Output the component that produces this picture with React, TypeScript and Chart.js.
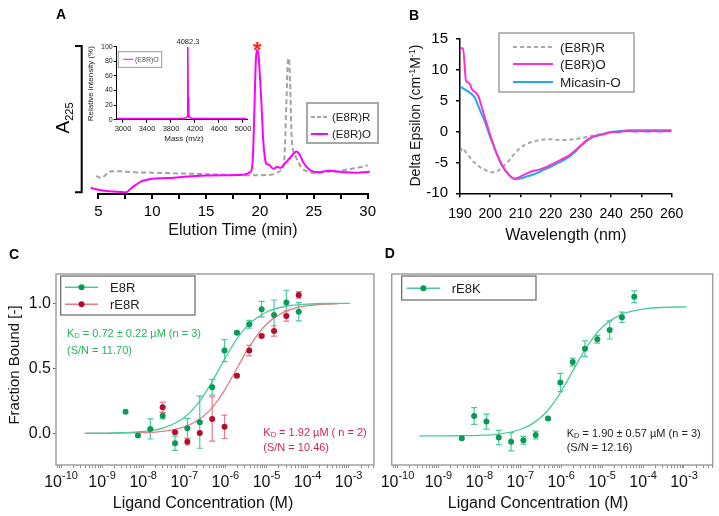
import React, { useEffect, useRef } from 'react';
import { Chart, registerables } from 'chart.js';

Chart.register(...registerables);

const FONT = '"Liberation Sans", Arial, Helvetica, sans-serif';

// ---------- Panel A : HPLC chromatogram ----------
const hplcTimeO = [4.3, 5.0, 6.0, 7.0, 7.6, 8.0, 8.5, 9.0, 9.5, 10.0, 11.0, 12.0, 13.0, 15.0, 17.0, 18.0, 18.7, 19.0, 19.2, 19.35, 19.5, 19.62, 19.75, 19.88, 20.0, 20.15, 20.3, 20.45, 20.6, 20.9, 21.1, 21.3, 21.6, 21.9, 22.3, 22.8, 23.2, 23.4, 23.7, 24.0, 24.5, 25.0, 25.5, 26.0, 26.5, 27.0, 28.0, 29.0, 29.5, 30.2];
const hplcAbsO = [4.2, 2.9, 1.9, 1.4, 1.2, 3.6, 6.3, 8.5, 9.6, 10.3, 10.7, 11.0, 11.7, 12.5, 12.7, 12.8, 13.4, 14.4, 15.7, 25, 60, 90, 97.5, 93, 80, 60, 37, 25, 20.5, 19.5, 17.8, 17.0, 18.4, 17.5, 20.4, 24.5, 27.8, 28.7, 26.5, 21.8, 17.0, 15.0, 14.7, 15.4, 15.7, 15.4, 14.7, 14.4, 14.7, 15.0];
const hplcTimeR = [4.3, 4.8, 5.2, 5.6, 6.0, 7.0, 8.0, 10.0, 12.0, 15.0, 18.0, 20.0, 21.0, 21.5, 22.0, 22.25, 22.45, 22.6, 22.7, 22.8, 22.95, 23.1, 23.3, 23.6, 23.9, 24.3, 25.0, 26.0, 27.0, 28.0, 29.0, 30.0, 30.3];
const hplcAbsR = [14.2, 12.3, 10.8, 12.3, 15.2, 15.4, 14.8, 14.4, 14.0, 13.4, 12.8, 12.7, 13.0, 14.0, 16.4, 22, 60, 90, 91.7, 75, 38, 29, 25.5, 21, 17.5, 15.5, 14.2, 15.0, 15.0, 16.4, 17.7, 19.4, 20.4];
const hplcLabels = ['(E8R)R', '(E8R)O'];

// ---------- Panel A inset : mass spectrum ----------
const msMass = [2900, 3400, 3800, 4000, 4050, 4070, 4078, 4082.3, 4086, 4090, 4095, 4100, 4108, 4120, 4150, 4300, 4700, 5060];
const msIntensity = [1.5, 1.5, 1.5, 1.7, 2.5, 4.0, 20, 100, 30, 14, 15, 8, 4, 2.5, 1.8, 1.5, 1.5, 1.5];
const msMassTicks = [3000, 3400, 3800, 4200, 4600, 5000];
const msIntTicks = [0, 20, 40, 60, 80, 100];

// ---------- Panel B : CD spectra ----------
const cdWavelength = [190, 191, 192, 193, 194, 195, 196, 197, 198, 199, 200, 202, 204, 206, 208, 210, 212, 214, 216, 218, 220, 222, 224, 226, 228, 230, 232, 234, 236, 238, 240, 242, 244, 246, 248, 250, 252, 254, 256, 258, 260];
const cdE8RO = [13.5, 13.5, 8.2, 7.9, 6.8, 6.4, 5.8, 4.3, 2.6, 1.0, -0.6, -3.4, -5.5, -6.9, -7.6, -7.3, -6.8, -6.4, -6.2, -5.85, -5.4, -4.9, -4.4, -3.9, -3.1, -2.2, -1.35, -0.85, -0.6, -0.35, -0.05, -0.1, 0.05, 0.1, 0.0, 0.1, 0.0, 0.1, 0.0, 0.1, 0.05];
const cdMicasinO = [7.3, 7.0, 6.7, 6.4, 6.0, 5.4, 4.2, 3.0, 1.9, 0.5, -0.9, -3.4, -5.6, -6.9, -7.7, -7.6, -7.3, -7.0, -6.6, -6.1, -5.7, -5.2, -4.7, -4.1, -3.3, -2.3, -1.5, -0.85, -0.55, -0.35, -0.1, 0.05, 0.15, 0.2, 0.2, 0.2, 0.2, 0.2, 0.2, 0.2, 0.2];
const cdE8RR = [-3.3, -2.7, -3.4, -4.0, -4.7, -5.1, -5.5, -5.9, -6.1, -6.4, -6.6, -6.5, -5.8, -4.8, -3.6, -2.6, -2.0, -1.65, -1.4, -1.27, -1.26, -1.33, -1.37, -1.33, -1.22, -1.05, -0.88, -0.65, -0.45, -0.25, -0.05, 0.05, 0.1, 0.1, 0.1, 0.1, 0.1, 0.1, 0.1, 0.1, 0.1];
const cdLabels = ['(E8R)R', '(E8R)O', 'Micasin-O'];

// ---------- Panels C / D : MST binding ----------
const ligandConc = [6.1e-5, 3.05e-5, 1.53e-5, 7.63e-6, 3.81e-6, 1.91e-6, 9.53e-7, 4.77e-7, 2.38e-7, 1.19e-7, 5.96e-8, 2.98e-8, 1.49e-8, 7.45e-9, 3.72e-9];
const e8rBound = [0.935, 1.005, 0.91, 0.954, 0.838, 0.774, 0.636, 0.354, 0.085, 0.038, -0.077, 0.135, 0.033, -0.018, 0.166];
const e8rErr = [0.07, 0.095, 0.115, 0.06, 0.03, 0.01, 0.085, 0.06, 0.2, 0.077, 0.055, 0.025, 0.077, 0, 0];
const re8rBound = [1.064, 0.902, 0.787, 0.748, 0.636, 0.443, 0.05, 0.11, 0.003, -0.065, 0.008, 0.2];
const re8rErr = [0.025, 0.04, 0.04, 0.01, 0.04, 0.01, 0.09, 0.17, 0, 0.025, 0, 0.04];
const fitConcE8R = [3.8e-10, 1e-9, 3e-9, 1e-8, 3e-8, 1e-7, 2e-7, 4e-7, 7e-7, 1e-6, 2e-6, 4e-6, 1e-5, 3e-5, 1e-4, 3e-4, 1.07e-3];
const e8rFit = [0.0, 0.001, 0.004, 0.014, 0.04, 0.122, 0.217, 0.357, 0.493, 0.581, 0.735, 0.847, 0.933, 0.977, 0.993, 0.998, 0.999];
const fitConcRE8R = [3.8e-10, 1e-9, 3e-9, 1e-8, 3e-8, 1e-7, 2e-7, 4e-7, 7e-7, 1e-6, 2e-6, 4e-6, 1e-5, 3e-5, 1e-4, 3e-4, 5.5e-4];
const re8rFit = [0.0, 0.0, 0.002, 0.005, 0.015, 0.05, 0.094, 0.17, 0.267, 0.342, 0.51, 0.676, 0.839, 0.94, 0.981, 0.994, 0.997];
const re8kBound = [1.05, 0.892, 0.795, 0.723, 0.651, 0.548, 0.39, 0.113, -0.013, -0.054, -0.065, -0.033, 0.09, 0.133, -0.038];
const re8kErr = [0.045, 0.04, 0.07, 0.03, 0.06, 0.03, 0.07, 0.01, 0.03, 0.03, 0.07, 0.055, 0.058, 0.065, 0];
const fitConcRE8K = [3.5e-10, 1e-9, 3e-9, 1e-8, 3e-8, 1e-7, 2e-7, 4e-7, 7e-7, 1e-6, 2e-6, 4e-6, 1e-5, 3e-5, 1e-4, 3e-4, 1.17e-3];
const re8kFit = [-0.021, -0.02, -0.019, -0.016, -0.006, 0.029, 0.074, 0.152, 0.247, 0.322, 0.489, 0.654, 0.815, 0.915, 0.955, 0.968, 0.972];
const fractionTicks = [0, 0.5, 1.0];
const decadeExps = [-10, -9, -8, -7, -6, -5, -4, -3];
const mstLabelsC = ['E8R', 'rE8R'];
const mstLabelsD = ['rE8K'];

// ---------- colours ----------
const MAGENTA = '#ff00ff';
const GRAY_A = '#a3a3a3';
const B_MAGENTA = '#ff2fd0';
const B_CYAN = '#1aaee8';
const GRAY_B = '#a8a8a8';
const GREEN_DOT = '#0a9a55';
const GREEN_LINE = '#48cc9e';
const RED_DOT = '#b0102e';
const RED_LINE = '#ea7a86';
const KD_GREEN = '#22b85a';
const KD_RED = '#d42552';

const pts = (xs: number[], ys: number[]) => xs.map((x, i) => ({ x, y: ys[i] }));

type Seg = { t: string; s: number; dy?: number; w?: string };
function rich(ctx: CanvasRenderingContext2D, segs: Seg[], x: number, y: number, color: string, align = 'center', rotate = 0) {
  ctx.save();
  ctx.fillStyle = color;
  ctx.textBaseline = 'alphabetic';
  ctx.textAlign = 'left';
  const ws = segs.map((g) => {
    ctx.font = `${g.w || 'normal'} ${g.s}px ${FONT}`;
    return ctx.measureText(g.t).width;
  });
  const total = ws.reduce((a, b) => a + b, 0);
  ctx.translate(x, y);
  if (rotate) ctx.rotate(rotate);
  let cx = align === 'center' ? -total / 2 : align === 'right' ? -total : 0;
  segs.forEach((g, i) => {
    ctx.font = `${g.w || 'normal'} ${g.s}px ${FONT}`;
    ctx.fillText(g.t, cx, g.dy || 0);
    cx += ws[i];
  });
  ctx.restore();
}
function text(ctx: CanvasRenderingContext2D, t: string, x: number, yc: number, size: number, color = '#000', align = 'center', weight = 'normal', rotate = 0) {
  const off = 0.36 * size;
  if (rotate) rich(ctx, [{ t, s: size, w: weight }], x + off, yc, color, align, rotate);
  else rich(ctx, [{ t, s: size, w: weight }], x, yc + off, color, align);
}
function box(ctx: CanvasRenderingContext2D, x0: number, y0: number, x1: number, y1: number, color: string, lw: number) {
  ctx.save();
  ctx.strokeStyle = color;
  ctx.lineWidth = lw;
  ctx.strokeRect(x0, y0, x1 - x0, y1 - y0);
  ctx.restore();
}
function legendLine(ctx: CanvasRenderingContext2D, x0: number, x1: number, y: number, color: string, lw: number, dash: number[] = [], marker = '') {
  ctx.save();
  ctx.strokeStyle = color;
  ctx.lineWidth = lw;
  ctx.setLineDash(dash);
  ctx.beginPath();
  ctx.moveTo(x0, y);
  ctx.lineTo(x1, y);
  ctx.stroke();
  if (marker) {
    ctx.setLineDash([]);
    ctx.fillStyle = marker;
    ctx.beginPath();
    ctx.arc((x0 + x1) / 2, y, 3, 0, Math.PI * 2);
    ctx.fill();
  }
  ctx.restore();
}
function logTicks(minExp: number, maxExp: number) {
  const out: number[] = [];
  for (let e = Math.floor(minExp); e <= Math.ceil(maxExp); e++) {
    for (let m = 1; m <= 9; m++) {
      const v = m * Math.pow(10, e);
      const lv = Math.log10(v);
      if (lv >= minExp - 1e-9 && lv <= maxExp + 1e-9) out.push(v);
    }
  }
  return out;
}
function errorBars(specs: { ds: number; err: number[]; color: string }[]) {
  return {
    id: 'errbars',
    beforeDatasetsDraw(chart: any) {
      const ctx = chart.ctx;
      const ys = chart.scales.y;
      specs.forEach((sp) => {
        const meta = chart.getDatasetMeta(sp.ds);
        const data = chart.data.datasets[sp.ds].data;
        meta.data.forEach((el: any, i: number) => {
          const e = sp.err[i];
          if (!e) return;
          const px = el.x;
          const top = ys.getPixelForValue(data[i].y + e);
          const bot = ys.getPixelForValue(data[i].y - e);
          ctx.save();
          ctx.strokeStyle = sp.color;
          ctx.lineWidth = 1.2;
          ctx.beginPath();
          ctx.moveTo(px, top);
          ctx.lineTo(px, bot);
          ctx.moveTo(px - 3, top);
          ctx.lineTo(px + 3, top);
          ctx.moveTo(px - 3, bot);
          ctx.lineTo(px + 3, bot);
          ctx.stroke();
          ctx.restore();
        });
      });
    },
  };
}
function powerLabels(chart: any, baseY: number) {
  const xs = chart.scales.x;
  decadeExps.forEach((e) => {
    const px = xs.getPixelForValue(Math.pow(10, e));
    rich(chart.ctx, [{ t: '10', s: 16 }, { t: String(e), s: 11, dy: -7.4 }], px, baseY, '#111', 'center');
  });
}

const base = (padding: any) => ({
  responsive: false,
  animation: false,
  devicePixelRatio: 1,
  events: [],
  layout: { padding },
  plugins: { legend: { display: false }, tooltip: { enabled: false } },
});

// ---------- chart builders ----------
function buildA() {
  const peakIdx = hplcAbsO.indexOf(Math.max(...hplcAbsO));
  return {
    type: 'line',
    data: {
      datasets: [
        { label: hplcLabels[1], data: pts(hplcTimeO, hplcAbsO), borderColor: MAGENTA, borderWidth: 2, pointRadius: 0, cubicInterpolationMode: 'monotone', clip: false, fill: false },
        { label: hplcLabels[0], data: pts(hplcTimeR, hplcAbsR), borderColor: GRAY_A, borderWidth: 2, borderDash: [5, 3], pointRadius: 0, cubicInterpolationMode: 'monotone', clip: false, fill: false },
      ],
    },
    options: {
      ...base({ left: 98.3, right: 6.7, top: 46, bottom: 0 }),
      scales: {
        x: {
          type: 'linear', min: 5, max: 30,
          afterFit: (s: any) => { s.height = 56; },
          ticks: { stepSize: 2.5, includeBounds: false, autoSkip: false, maxRotation: 0, padding: 4, color: '#000', font: { family: FONT, size: 15 }, callback: (v: any) => (Number(v) % 5 === 0 ? String(v) : '') },
          grid: { drawOnChartArea: false, drawTicks: true, tickLength: 5, color: '#000', lineWidth: 2 },
          border: { color: '#000', width: 2 },
        },
        y: { display: false, min: 0, max: 100 },
      },
    },
    plugins: [{
      id: 'annA',
      afterDraw(chart: any) {
        const ctx = chart.ctx;
        const { x, y } = chart.scales;
        ctx.save();
        ctx.strokeStyle = '#000';
        ctx.lineWidth = 2;
        ctx.beginPath();
        ctx.moveTo(75, 46);
        ctx.lineTo(81.7, 46);
        ctx.lineTo(81.7, 192.3);
        ctx.lineTo(75, 192.3);
        ctx.stroke();
        ctx.restore();
        rich(ctx, [{ t: 'A', s: 19 }, { t: '225', s: 11, dy: 4 }], 62 + 0.36 * 19, 118, '#000', 'center', -Math.PI / 2);
        const sx = x.getPixelForValue(hplcTimeO[peakIdx]);
        const sy = y.getPixelForValue(hplcAbsO[peakIdx]);
        rich(ctx, [{ t: '*', s: 22, w: 'bold' }], sx, sy + 7.5, '#ff2020', 'center');
        box(ctx, 307, 103, 378, 143, '#a8a8a8', 2);
        legendLine(ctx, 311, 328, 117, GRAY_A, 2, [4, 2]);
        text(ctx, hplcLabels[0], 332, 117, 11.5, '#222', 'left');
        legendLine(ctx, 311, 328, 134, MAGENTA, 2);
        text(ctx, hplcLabels[1], 332, 134, 11.5, '#222', 'left');
        text(ctx, 'Elution Time (min)', (chart.chartArea.left + chart.chartArea.right) / 2, 229, 16, '#111');
        text(ctx, 'A', 61, 14, 14, '#000', 'center', 'bold');
      },
    }],
  };
}

function buildInset() {
  const peakIdx = msIntensity.indexOf(Math.max(...msIntensity));
  const axisGrid = { drawOnChartArea: false, drawTicks: true, tickLength: 3, color: '#000', lineWidth: 1 };
  return {
    type: 'line',
    data: { datasets: [{ label: '(E8R)O', data: pts(msMass, msIntensity), borderColor: MAGENTA, borderWidth: 1.6, pointRadius: 0, fill: false, tension: 0 }] },
    options: {
      ...base({ left: 0, right: 13, top: 16.7, bottom: 0 }),
      scales: {
        x: {
          type: 'linear', min: 2895, max: 5067,
          afterBuildTicks: (s: any) => { s.ticks = msMassTicks.map((v) => ({ value: v })); },
          afterFit: (s: any) => { s.height = 25.3; },
          ticks: { autoSkip: false, maxRotation: 0, padding: 1.5, color: '#222', font: { family: FONT, size: 7.5 }, callback: (v: any) => String(v) },
          grid: axisGrid,
          border: { color: '#000', width: 1 },
        },
        y: {
          min: 0, max: 100,
          afterBuildTicks: (s: any) => { s.ticks = msIntTicks.map((v) => ({ value: v })); },
          afterFit: (s: any) => { s.width = 36.7; },
          ticks: { padding: 1, color: '#222', font: { family: FONT, size: 7 }, callback: (v: any) => String(v) },
          grid: axisGrid,
          border: { color: '#000', width: 1 },
        },
      },
    },
    plugins: [{
      id: 'annInset',
      afterDraw(chart: any) {
        const ctx = chart.ctx;
        text(ctx, 'Relative intensity (%)', 10.5, 53.7, 8, '#222', 'center', 'normal', -Math.PI / 2);
        text(ctx, 'Mass (m/z)', 104, 108.3, 8, '#222');
        text(ctx, msMass[peakIdx].toFixed(1), chart.scales.x.getPixelForValue(msMass[peakIdx]), 11.2, 7.5, '#222');
        box(ctx, 38.3, 21.7, 81.7, 37.3, '#9a9a9a', 1);
        legendLine(ctx, 43.3, 53.3, 29.3, MAGENTA, 1);
        text(ctx, '(E8R)O', 55, 29.3, 7, '#555', 'left');
      },
    }],
  };
}

function buildB() {
  const ds = (label: string, ys: number[], color: string, dash: number[]) => ({ label, data: pts(cdWavelength, ys), borderColor: color, borderWidth: 2, borderDash: dash, pointRadius: 0, fill: false, cubicInterpolationMode: 'monotone' });
  const g = { drawOnChartArea: false, drawTicks: true, tickLength: 4, color: '#000', lineWidth: 1.5 };
  return {
    type: 'line',
    data: { datasets: [ds(cdLabels[1], cdE8RO, B_MAGENTA, []), ds(cdLabels[2], cdMicasinO, B_CYAN, []), ds(cdLabels[0], cdE8RR, GRAY_B, [4, 3])] },
    options: {
      ...base({ left: 0, right: 47.3, top: 39, bottom: 0 }),
      scales: {
        x: {
          type: 'linear', min: 190, max: 260,
          afterFit: (s: any) => { s.height = 56.7; },
          ticks: { stepSize: 10, autoSkip: false, maxRotation: 0, padding: 8, color: '#000', font: { family: FONT, size: 14 } },
          grid: g, border: { color: '#000', width: 1.5 },
        },
        y: {
          min: -10, max: 15,
          afterFit: (s: any) => { s.width = 80; },
          ticks: { stepSize: 5, padding: 8, color: '#000', font: { family: FONT, size: 15 } },
          grid: g, border: { color: '#000', width: 1.5 },
        },
      },
    },
    plugins: [{
      id: 'annB',
      afterDraw(chart: any) {
        const ctx = chart.ctx;
        box(ctx, 119, 33, 254, 92, '#a0a0a0', 1.5);
        legendLine(ctx, 133, 173, 47, GRAY_B, 2, [4, 3]);
        text(ctx, cdLabels[0], 180, 47, 13.5, '#222', 'left');
        legendLine(ctx, 133, 173, 64, B_MAGENTA, 2);
        text(ctx, cdLabels[1], 180, 64, 13.5, '#222', 'left');
        legendLine(ctx, 133, 173, 82, B_CYAN, 2);
        text(ctx, cdLabels[2], 180, 82, 13.5, '#222', 'left');
        rich(ctx, [
          { t: 'Delta Epsilon (cm', s: 14 },
          { t: '-1', s: 9, dy: -5 },
          { t: 'M', s: 14 },
          { t: '-1', s: 9, dy: -5 },
          { t: ')', s: 14 },
        ], 35 + 0.36 * 14, 115.5, '#111', 'center', -Math.PI / 2);
        text(ctx, 'Wavelength (nm)', (chart.chartArea.left + chart.chartArea.right) / 2, 234, 16, '#111');
        text(ctx, 'B', 34, 14.5, 14, '#000', 'center', 'bold');
      },
    }],
  };
}

const C_MIN = -10.122;
const C_MAX = -2.383;
const D_MIN = -10.142;
const D_MAX = -2.298;

function logX(minE: number, maxE: number) {
  return {
    type: 'logarithmic', min: Math.pow(10, minE), max: Math.pow(10, maxE),
    afterBuildTicks: (s: any) => { s.ticks = logTicks(minE, maxE).map((v) => ({ value: v })); },
    afterFit: (s: any) => { s.height = 51; },
    ticks: { display: false, autoSkip: false },
    grid: { drawOnChartArea: false, drawTicks: true, tickLength: 3, color: '#8a8a8a', lineWidth: 1 },
    border: { display: false },
  };
}
const dots = (label: string, xs: number[], ys: number[], color: string) => ({ label, data: pts(xs, ys), showLine: false, pointRadius: 3, pointBackgroundColor: color, pointBorderColor: color, pointBorderWidth: 0, borderColor: color });
const fitLine = (xs: number[], ys: number[], color: string) => ({ data: pts(xs, ys), borderColor: color, borderWidth: 1.3, pointRadius: 0, fill: false, cubicInterpolationMode: 'monotone' });

function buildC() {
  return {
    type: 'line',
    data: {
      datasets: [
        dots(mstLabelsC[0], ligandConc, e8rBound, GREEN_DOT),
        dots(mstLabelsC[1], ligandConc.slice(0, re8rBound.length), re8rBound, RED_DOT),
        fitLine(fitConcE8R, e8rFit, GREEN_LINE),
        fitLine(fitConcRE8R, re8rFit, RED_LINE),
      ],
    },
    options: {
      ...base({ left: 0, right: 6, top: 34, bottom: 0 }),
      scales: {
        x: logX(C_MIN, C_MAX),
        y: {
          min: -0.244, max: 1.225,
          afterBuildTicks: (s: any) => { s.ticks = fractionTicks.map((v) => ({ value: v })); },
          afterFit: (s: any) => { s.width = 56; },
          ticks: { padding: 2, color: '#111', font: { family: FONT, size: 16 }, callback: (v: any) => Number(v).toFixed(1) },
          grid: { drawOnChartArea: false, drawTicks: true, tickLength: 3, color: '#666' },
          border: { display: false },
        },
      },
    },
    plugins: [
      errorBars([{ ds: 0, err: e8rErr, color: GREEN_LINE }, { ds: 1, err: re8rErr, color: RED_LINE }]),
      {
        id: 'annC',
        afterDraw(chart: any) {
          const ctx = chart.ctx;
          const a = chart.chartArea;
          box(ctx, a.left, a.top, a.right, a.bottom, '#a0a0a0', 1.5);
          powerLabels(chart, 246.7);
          text(ctx, 'Ligand Concentration (M)', 203, 262, 16, '#111');
          text(ctx, 'Fraction Bound [-]', 14, 125, 15, '#111', 'center', 'normal', -Math.PI / 2);
          box(ctx, 60.7, 36, 195, 75, '#666', 1.2);
          legendLine(ctx, 65, 98, 47.3, GREEN_LINE, 1.5, [], GREEN_DOT);
          text(ctx, mstLabelsC[0], 110, 47.3, 13, '#222', 'left');
          legendLine(ctx, 65, 98, 64.3, RED_LINE, 1.5, [], RED_DOT);
          text(ctx, mstLabelsC[1], 110, 64.3, 13, '#222', 'left');
          rich(ctx, [{ t: 'K', s: 11 }, { t: 'D', s: 7.5, dy: 0.5 }, { t: ' = 0.72 ± 0.22 µM (n = 3)', s: 11 }], 67, 93.3 + 4, KD_GREEN, 'left');
          text(ctx, '(S/N = 11.70)', 67, 110, 11, KD_GREEN, 'left');
          rich(ctx, [{ t: 'K', s: 11 }, { t: 'D', s: 7.5, dy: 0.5 }, { t: ' = 1.92 µM ( n = 2)', s: 11 }], 263.3, 192.3 + 4, KD_RED, 'left');
          text(ctx, '(S/N = 10.46)', 263.3, 206.7, 11, KD_RED, 'left');
          text(ctx, 'C', 14, 14, 14, '#000', 'center', 'bold');
        },
      },
    ],
  };
}

function buildD() {
  return {
    type: 'line',
    data: {
      datasets: [
        dots(mstLabelsD[0], ligandConc, re8kBound, GREEN_DOT),
        fitLine(fitConcRE8K, re8kFit, GREEN_LINE),
      ],
    },
    options: {
      ...base({ left: 11.7, right: 6.3, top: 34, bottom: 0 }),
      scales: {
        x: logX(D_MIN, D_MAX),
        y: { display: false, min: -0.244, max: 1.225 },
      },
    },
    plugins: [
      errorBars([{ ds: 0, err: re8kErr, color: GREEN_LINE }]),
      {
        id: 'annD',
        afterDraw(chart: any) {
          const ctx = chart.ctx;
          const a = chart.chartArea;
          box(ctx, a.left, a.top, a.right, a.bottom, '#a0a0a0', 1.5);
          powerLabels(chart, 246.7);
          text(ctx, 'Ligand Concentration (M)', 158, 262, 16, '#111');
          box(ctx, 21.7, 36, 156, 60, '#666', 1.2);
          legendLine(ctx, 26.7, 60, 48.3, GREEN_LINE, 1.5, [], GREEN_DOT);
          text(ctx, mstLabelsD[0], 71.7, 48.3, 13, '#222', 'left');
          rich(ctx, [{ t: 'K', s: 11 }, { t: 'D', s: 7.5, dy: 0.5 }, { t: ' = 1.90 ± 0.57 µM (n = 3)', s: 11 }], 186.7, 193.3 + 4, '#222', 'left');
          text(ctx, '(S/N = 12.16)', 186.7, 206.7, 11, '#222', 'left');
          text(ctx, 'D', 9.7, 13.3, 14, '#000', 'center', 'bold');
        },
      },
    ],
  };
}

function ChartBox({ x, y, w, h, build }: { x: number; y: number; w: number; h: number; build: () => any }) {
  const ref = useRef<HTMLCanvasElement>(null);
  useEffect(() => {
    const chart = new Chart(ref.current as HTMLCanvasElement, build());
    return () => chart.destroy();
  }, []);
  return <canvas ref={ref} width={w} height={h} style={{ position: 'absolute', left: x, top: y, width: w, height: h }} />;
}

export default function App() {
  return (
    <div style={{ position: 'fixed', left: 0, top: 0, width: 719, height: 516, background: '#fff', overflow: 'hidden' }}>
      <ChartBox x={0} y={0} w={380} h={250} build={buildA} />
      <ChartBox x={80} y={30} w={180} h={115} build={buildInset} />
      <ChartBox x={380} y={0} w={339} h={250} build={buildB} />
      <ChartBox x={0} y={240} w={380} h={276} build={buildC} />
      <ChartBox x={380} y={240} w={339} h={276} build={buildD} />
    </div>
  );
}
